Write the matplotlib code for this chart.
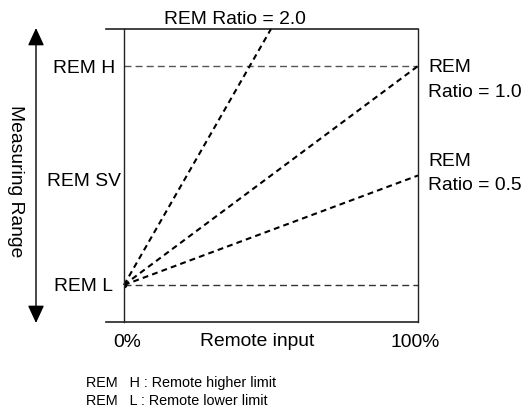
import matplotlib
matplotlib.use("Agg")
import matplotlib.pyplot as plt
import matplotlib.transforms as mtransforms
from matplotlib.patches import FancyArrowPatch
from matplotlib.lines import Line2D

plt.rcParams['font.family'] = ['Liberation Sans', 'DejaVu Sans']

# ---- data ----
x_ticks = [0.0, 1.0]
x_tick_labels = ["0%", "100%"]
y_ticks = [0.0, 0.48, 1.0]
y_tick_labels = ["REM L", "REM SV", "REM H"]
rem_low = 0.0
rem_high = 1.0
ratio_names = ["2.0", "1.0", "0.5"]
ratio_x_end = [0.5, 1.0, 1.0]
ratio_y_end = [1.169, 1.0, 0.5]
footnotes = ["REM   H : Remote higher limit", "REM   L : Remote lower limit"]

W, H = 527, 409
DPI = 100
fig = plt.figure(figsize=(W / DPI, H / DPI), dpi=DPI)

def fx(px):
    return px / W

def fy(py):
    return 1 - py / H

L, R, T, B = 124, 418, 29, 322
ax = fig.add_axes([fx(L), fy(B), (R - L) / W, (B - T) / H])
ax.set_xlim(0, 1)
ax.set_ylim(-0.169, 1.169)

FS = 13.9
for s in ['top', 'bottom']:
    ax.spines[s].set_visible(False)
for s in ['left', 'right']:
    ax.spines[s].set_linewidth(1.0)
    ax.spines[s].set_color('#222222')

# extended top/bottom frame lines
ext = (106 - L) / (R - L)
for yy in [0, 1]:
    ax.add_line(Line2D([ext, 1], [yy, yy], transform=ax.transAxes,
                       color='#222222', lw=1.2, clip_on=False))

# limit lines
ax.plot([0, 1], [rem_high, rem_high], color='#555555', lw=1.0,
        dashes=(5, 3))
ax.plot([0, 1], [rem_low, rem_low], color='#333333', lw=1.0,
        dashes=(5, 3))

# ratio lines
for xe, ye in zip(ratio_x_end, ratio_y_end):
    ax.plot([0, xe], [rem_low, ye], color='black', lw=1.5,
            dashes=(2.8, 2.0), clip_on=False)
ax.plot([0], [rem_low], 'o', color='black', ms=3)

# ticks
ax.set_xticks(x_ticks)
ax.set_xticklabels(x_tick_labels, fontsize=FS)
ax.set_yticks(y_ticks)
ax.set_yticklabels(y_tick_labels, fontsize=FS, ha='center')
ax.tick_params(axis='y', length=0, pad=28.8)
ax.tick_params(axis='x', length=0, pad=8.6)
for lab, dx in zip(ax.get_xticklabels(), [3, -3]):
    lab.set_transform(lab.get_transform() +
                      mtransforms.ScaledTranslation(dx / DPI, 0, fig.dpi_scale_trans))

ax.set_xlabel("Remote input", fontsize=FS, va='center')
ax.xaxis.set_label_coords((257.5 - L) / (R - L), (B - 342) / (B - T))

# ratio labels
ax.text(fx(235), fy(19), "REM Ratio = " + ratio_names[0], transform=fig.transFigure,
        fontsize=FS, ha='center', va='center')
for name, ye, (dy1, dy2) in zip(ratio_names[1:], ratio_y_end[1:], [(1, 26), (-14, 10)]):
    ax.annotate("REM", xy=(1, ye), xytext=(7.2, -dy1 * 0.72),
                textcoords='offset points', fontsize=FS, ha='left', va='center',
                annotation_clip=False)
    ax.annotate("Ratio = " + name, xy=(1, ye), xytext=(7.2, -dy2 * 0.72),
                textcoords='offset points', fontsize=FS, ha='left', va='center',
                annotation_clip=False)

# measuring range arrow
arrow = FancyArrowPatch((fx(36), fy(323)), (fx(36), fy(28)),
                        transform=fig.transFigure,
                        arrowstyle='<|-|>,head_length=10.8,head_width=5',
                        mutation_scale=1, color='black', lw=1.0,
                        shrinkA=0, shrinkB=0)
fig.add_artist(arrow)
fig.text(fx(15), fy(181), "Measuring Range", rotation=270, fontsize=FS,
         ha='center', va='center')

# footnotes
for i, t in enumerate(footnotes):
    fig.text(fx(86), fy(383 + 18 * i), t, fontsize=10.4, ha='left', va='center')

fig.savefig("out.png", dpi=DPI)
